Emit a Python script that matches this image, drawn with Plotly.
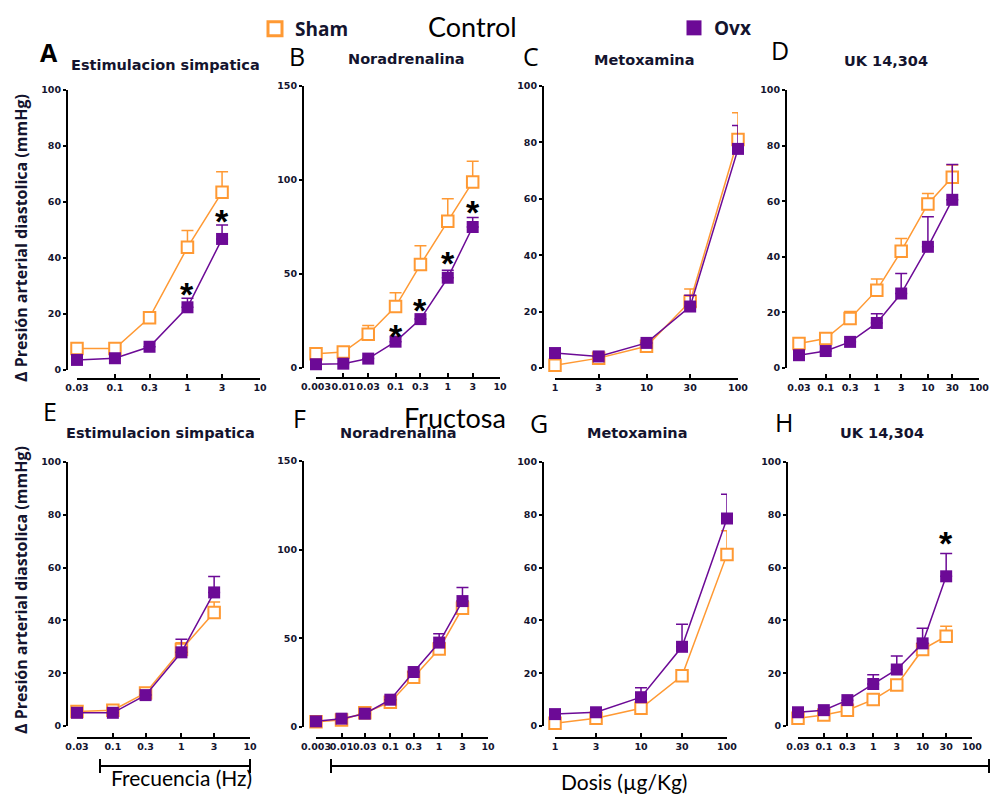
import math
import plotly.graph_objects as go

W, H = 992, 797

# ---------------- data ----------------
freq = [0.03, 0.1, 0.3, 1, 3]
nor_dose = [0.003, 0.01, 0.03, 0.1, 0.3, 1, 3]
met_dose = [1, 3, 10, 30, 100]
uk_dose = [0.03, 0.1, 0.3, 1, 3, 10, 30]

# Control row
A_sham = [7.7, 7.7, 18.7, 43.8, 63.5]
A_sham_err = [0, 0, 0, 6, 7.3]
A_ovx = [3.6, 4.2, 8.3, 22.4, 46.8]
A_ovx_err = [0, 0, 0, 3.2, 5]
A_star_x = [1, 3]
A_star_y = [28.6, 54.8]

B_sham = [7.6, 8.5, 18, 32.7, 55, 78, 99]
B_sham_err = [0, 0, 4.6, 7.3, 10, 12, 11]
B_ovx = [2, 2.3, 5, 14, 26, 48, 75]
B_ovx_err = [0, 0, 0, 0, 0, 4, 5]
B_star_x = [0.1, 0.3, 1, 3]
B_star_y = [19, 33, 58, 85]

C_sham = [1, 3.5, 7.7, 23.6, 81]
C_sham_err = [0, 0, 0, 4.4, 9.5]
C_ovx = [5.3, 4.1, 8.9, 21.8, 77.7]
C_ovx_err = [0, 0, 0, 4, 8.3]

D_sham = [8.8, 10.6, 17.8, 28, 42, 59, 68.6]
D_sham_err = [0, 0, 2.5, 4, 4.6, 3.8, 4.4]
D_ovx = [4.6, 6.1, 9.4, 16.2, 26.8, 43.6, 60.5]
D_ovx_err = [0, 0, 0, 3.3, 7.2, 10.8, 12.7]

# Fructosa row
E_sham = [5.5, 6, 12.5, 29, 43]
E_sham_err = [0, 0, 0, 2.5, 4]
E_ovx = [5, 5, 11.7, 27.9, 50.6]
E_ovx_err = [0, 0, 0, 5, 6]

F_sham = [3, 4, 8, 14, 28, 44, 67]
F_sham_err = [0, 0, 0, 0, 0, 3, 4]
F_ovx = [3.2, 4.7, 7.5, 15.4, 31, 47.6, 71]
F_ovx_err = [0, 0, 0, 0, 0, 5, 7.6]

G_sham = [1, 2.9, 6.7, 19, 65]
G_sham_err = [0, 0, 0, 0, 9]
G_ovx = [4.5, 5.2, 10.9, 30, 78.6]
G_ovx_err = [0, 0, 3.6, 8.5, 9.2]

H_sham = [2.9, 4.2, 6, 10, 15.5, 29, 34]
H_sham_err = [0, 0, 0, 0, 0, 0, 3.8]
H_ovx = [5.2, 6, 9.8, 15.9, 21.4, 31.3, 56.7]
H_ovx_err = [0, 0, 0, 3.5, 5.1, 5.7, 8.6]
H_star_x = [30]
H_star_y = [71]

# tick values / labels
ticks_freq = [0.03, 0.1, 0.3, 1, 3, 10]
labels_freq = ["0.03", "0.1", "0.3", "1", "3", "10"]
ticks_nor = [0.003, 0.01, 0.03, 0.1, 0.3, 1, 3, 10]
labels_nor = ["0.003", "0.01", "0.03", "0.1", "0.3", "1", "3", "10"]
ticks_met = [1, 3, 10, 30, 100]
labels_met = ["1", "3", "10", "30", "100"]
ticks_uk = [0.03, 0.1, 0.3, 1, 3, 10, 30, 100]
labels_uk = ["0.03", "0.1", "0.3", "1", "3", "10", "30", "100"]
yticks_100 = [0, 20, 40, 60, 80, 100]
yticks_150 = [0, 50, 100, 150]

titles = ["Estimulacion simpatica", "Noradrenalina", "Metoxamina", "UK 14,304",
          "Estimulacion simpatica", "Noradrenalina", "Metoxamina", "UK 14,304"]
letters = ["A", "B", "C", "D", "E", "F", "G", "H"]

ORANGE = "#FF9933"
PURPLE = "#6C0A96"
INK = "#14142e"


def px(x):
    return x / W


def py(y):
    return 1 - y / H


panels = [
    dict(d=freq, s=A_sham, se=A_sham_err, o=A_ovx, oe=A_ovx_err, st=(A_star_x, A_star_y),
         xt=ticks_freq, xl=labels_freq, ymax=100, yt=yticks_100,
         geo=dict(yl=67, y0=370, yt=90, xl=379, x0=77, x1=260),
         title=(165, 65), letter=(49, 52)),
    dict(d=nor_dose, s=B_sham, se=B_sham_err, o=B_ovx, oe=B_ovx_err, st=(B_star_x, B_star_y),
         xt=ticks_nor, xl=labels_nor, ymax=150, yt=yticks_150,
         geo=dict(yl=303, y0=368, yt=86, xl=378, x0=316, x1=500),
         title=(406, 59), letter=(297, 56)),
    dict(d=met_dose, s=C_sham, se=C_sham_err, o=C_ovx, oe=C_ovx_err, st=None,
         xt=ticks_met, xl=labels_met, ymax=100, yt=yticks_100,
         geo=dict(yl=543, y0=368, yt=86, xl=379, x0=555, x1=738),
         title=(644, 60), letter=(531, 56)),
    dict(d=uk_dose, s=D_sham, se=D_sham_err, o=D_ovx, oe=D_ovx_err, st=None,
         xt=ticks_uk, xl=labels_uk, ymax=100, yt=yticks_100,
         geo=dict(yl=786, y0=368, yt=90, xl=379, x0=799, x1=979),
         title=(886, 61), letter=(780, 50)),
    dict(d=freq, s=E_sham, se=E_sham_err, o=E_ovx, oe=E_ovx_err, st=None,
         xt=ticks_freq, xl=labels_freq, ymax=100, yt=yticks_100,
         geo=dict(yl=67, y0=726, yt=462, xl=738, x0=77, x1=250),
         title=(160, 433), letter=(50, 411)),
    dict(d=nor_dose, s=F_sham, se=F_sham_err, o=F_ovx, oe=F_ovx_err, st=None,
         xt=ticks_nor, xl=labels_nor, ymax=150, yt=yticks_150,
         geo=dict(yl=303, y0=727, yt=461, xl=738, x0=316, x1=488),
         title=(398, 433), letter=(299, 418)),
    dict(d=met_dose, s=G_sham, se=G_sham_err, o=G_ovx, oe=G_ovx_err, st=None,
         xt=ticks_met, xl=labels_met, ymax=100, yt=yticks_100,
         geo=dict(yl=543, y0=726, yt=462, xl=738, x0=555, x1=727),
         title=(637, 433), letter=(539, 423)),
    dict(d=uk_dose, s=H_sham, se=H_sham_err, o=H_ovx, oe=H_ovx_err, st=(H_star_x, H_star_y),
         xt=ticks_uk, xl=labels_uk, ymax=100, yt=yticks_100,
         geo=dict(yl=787, y0=726, yt=462, xl=738, x0=798, x1=972),
         title=(882, 433), letter=(784, 422)),
]

fig = go.Figure()
layout = dict(
    width=W, height=H, margin=dict(l=0, r=0, t=0, b=0, autoexpand=False),
    paper_bgcolor="white", plot_bgcolor="rgba(0,0,0,0)",
    showlegend=True,
)
annotations = []

tick_font = dict(family="DejaVu Sans", size=9.5, color=INK, weight="bold")

for i, p in enumerate(panels):
    n = i + 1
    xa = "x" if n == 1 else f"x{n}"
    ya = "y" if n == 1 else f"y{n}"
    g = p["geo"]
    xmin, xmax = p["xt"][0], p["xt"][-1]
    layout["xaxis" if n == 1 else f"xaxis{n}"] = dict(
        type="log", domain=[px(g["x0"]), px(g["x1"])],
        range=[math.log10(xmin), math.log10(xmax)],
        anchor="free", position=py(g["xl"]), automargin=False,
        showline=True, linewidth=2, linecolor="black",
        ticks="inside", ticklen=4, tickwidth=1.5, tickcolor="black",
        tickmode="array", tickvals=p["xt"], ticktext=p["xl"], tickangle=0,
        tickfont=tick_font, showgrid=False, zeroline=False,
    )
    layout["yaxis" if n == 1 else f"yaxis{n}"] = dict(
        domain=[py(g["y0"]), py(g["yt"])], range=[0, p["ymax"]],
        anchor="free", position=px(g["yl"]), automargin=False,
        showline=True, linewidth=2, linecolor="black",
        ticks="outside", ticklen=3, tickwidth=1.5, tickcolor="black",
        tickmode="array", tickvals=p["yt"], ticktext=[str(v) for v in p["yt"]],
        tickfont=tick_font, showgrid=False, zeroline=False,
    )
    nd = len(p["d"])
    fig.add_trace(go.Scatter(
        x=p["d"], y=p["s"], xaxis=xa, yaxis=ya, mode="lines+markers",
        line=dict(color=ORANGE, width=1.5),
        marker=dict(symbol="square", size=11.5, color="white", line=dict(color=ORANGE, width=2)),
        error_y=dict(type="data", symmetric=False, array=p["se"], arrayminus=[0] * nd,
                     color=ORANGE, thickness=1.5, width=6),
        showlegend=False, cliponaxis=False, name="Sham",
    ))
    fig.add_trace(go.Scatter(
        x=p["d"], y=p["o"], xaxis=xa, yaxis=ya, mode="lines+markers",
        line=dict(color=PURPLE, width=1.5),
        marker=dict(symbol="square", size=12, color=PURPLE, line=dict(color=PURPLE, width=0)),
        error_y=dict(type="data", symmetric=False, array=p["oe"], arrayminus=[0] * nd,
                     color=PURPLE, thickness=1.5, width=6),
        showlegend=False, cliponaxis=False, name="Ovx",
    ))
    if p["st"] is not None:
        sx, sy = p["st"]
        for xv, yv in zip(sx, sy):
            annotations.append(dict(
                x=math.log10(xv), y=yv, xref=xa, yref=ya, text="*", showarrow=False,
                xanchor="center", yanchor="middle", yshift=-4,
                font=dict(family="Liberation Sans", size=34, color="black", weight="bold")))
    tx, ty = p["title"]
    annotations.append(dict(x=px(tx), y=py(ty), xref="paper", yref="paper", text=titles[i],
                            showarrow=False, xanchor="center", yanchor="middle",
                            font=dict(family="DejaVu Sans", size=14.5, color=INK, weight="bold")))
    lx, ly = p["letter"]
    annotations.append(dict(x=px(lx), y=py(ly), xref="paper", yref="paper", text=letters[i],
                            showarrow=False, xanchor="center", yanchor="middle",
                            font=dict(family="Open Sans", size=25, color="black",
                                      weight="bold" if i == 0 else "normal")))

# legend entries (marker-only)
fig.add_trace(go.Scatter(x=[None], y=[None], mode="markers", name="Sham",
                         marker=dict(symbol="square", size=14, color="white",
                                     line=dict(color=ORANGE, width=3)),
                         legend="legend"))
fig.add_trace(go.Scatter(x=[None], y=[None], mode="markers", name="Ovx",
                         marker=dict(symbol="square", size=15, color=PURPLE),
                         legend="legend2"))
legend_font = dict(family="Open Sans", size=19, color=INK, weight="bold")
layout["legend"] = dict(x=px(255), y=py(29), xanchor="left", yanchor="middle",
                        bgcolor="rgba(0,0,0,0)", font=legend_font, itemwidth=30)
layout["legend2"] = dict(x=px(674), y=py(28), xanchor="left", yanchor="middle",
                         bgcolor="rgba(0,0,0,0)", font=legend_font, itemwidth=30)

# group headings
big = dict(family="Lato", size=27, color="black")
annotations.append(dict(x=px(472), y=py(26), xref="paper", yref="paper", text="Control",
                        showarrow=False, xanchor="center", yanchor="middle", font=big))
annotations.append(dict(x=px(455), y=py(417), xref="paper", yref="paper", text="Fructosa",
                        showarrow=False, xanchor="center", yanchor="middle", font=big))

# y-axis titles
ytitle_font = dict(family="Open Sans", size=16, color=INK, weight="bold")
for yc in (238, 590):
    annotations.append(dict(x=px(21), y=py(yc), xref="paper", yref="paper",
                            text="Δ Presión arterial diastolica (mmHg)", textangle=-90,
                            showarrow=False, xanchor="center", yanchor="middle",
                            font=ytitle_font))

# bottom axis labels with brackets
xlab_font = dict(family="Lato", size=21, color="black")
annotations.append(dict(x=px(181), y=py(777), xref="paper", yref="paper",
                        text="Frecuencia (Hz)", showarrow=False,
                        xanchor="center", yanchor="middle", font=xlab_font))
annotations.append(dict(x=px(624), y=py(781), xref="paper", yref="paper",
                        text="Dosis (µg/Kg)", showarrow=False,
                        xanchor="center", yanchor="middle", font=xlab_font))

shapes = []
for (xa_, xb_) in ((100, 250), (331, 989)):
    shapes.append(dict(type="line", xref="paper", yref="paper", x0=px(xa_), x1=px(xb_),
                       y0=py(766), y1=py(766), line=dict(color="black", width=2)))
    for xe in (xa_, xb_):
        shapes.append(dict(type="line", xref="paper", yref="paper", x0=px(xe), x1=px(xe),
                           y0=py(759), y1=py(773), line=dict(color="black", width=2)))

layout["annotations"] = annotations
layout["shapes"] = shapes
fig.update_layout(**layout)
fig.write_html("out.html", config={"displayModeBar": False},
               post_script="document.body.style.margin='0';")
